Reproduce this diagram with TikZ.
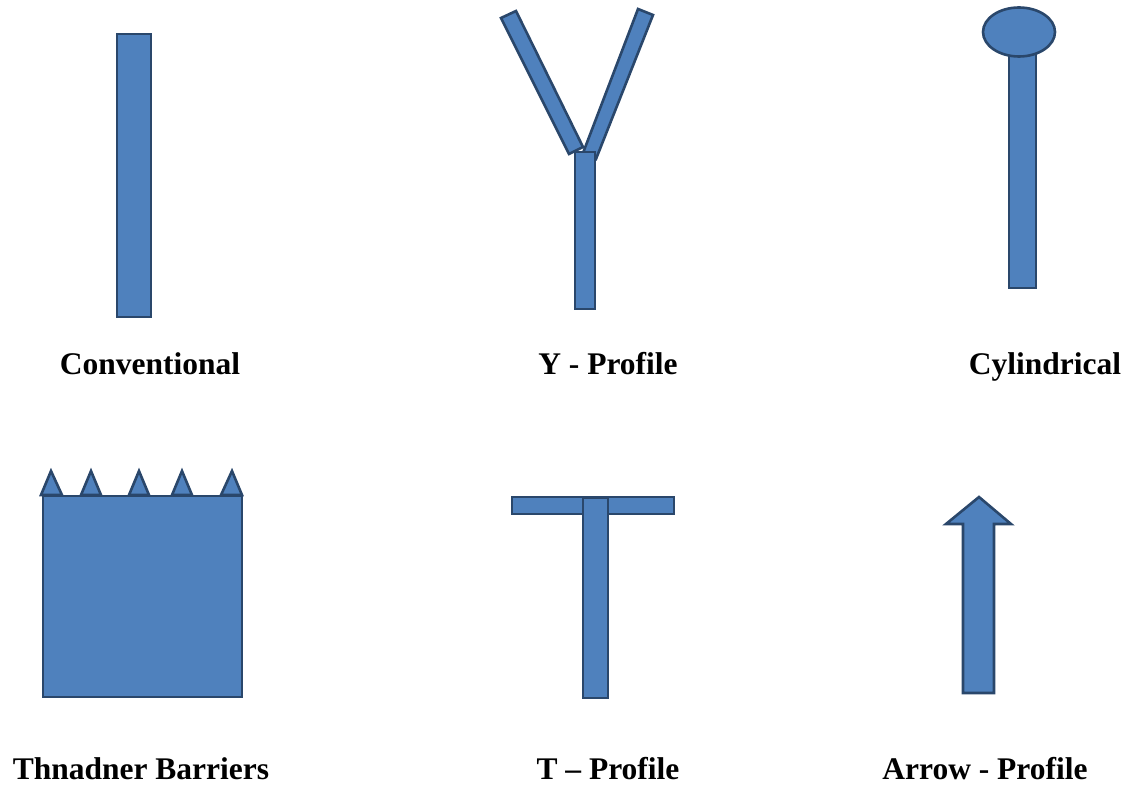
\documentclass[tikz,border=0pt]{standalone}
\usepackage{fontspec}
\setmainfont{Liberation Serif}
\definecolor{shapefill}{HTML}{4F81BD}
\definecolor{shapeline}{HTML}{2A476B}
\tikzset{
  part/.style={fill=shapefill, draw=shapeline, line width=2.6pt, line join=miter},
  label/.style={font=\fontsize{31.5}{36}\selectfont\bfseries, anchor=base, inner sep=0pt}
}
\begin{document}
\begin{tikzpicture}[x=1pt,y=-1pt]
\useasboundingbox (0,0) rectangle (1135,786);
% Conventional
\draw[part] (117,34) rectangle (151,317);
\node[label] (l1) at (150,374) {Conventional};
% Y-profile
\draw[part] (501,18) -- (516,11) -- (583,147) -- (569,154) -- cycle;
\draw[part] (638,9) -- (653,15) -- (596,159) -- (583,153) -- cycle;
\draw[part] (575,152) rectangle (595,309);
\node[label] (l2) at (608,374) {Y - Profile};
% Cylindrical
\draw[part] (1009,45) rectangle (1036,288);
\draw[part] (1019,32) ellipse [x radius=36, y radius=24.5];
\node[label] (l3) at (1045,374) {Cylindrical};
% Thnadner barriers
\foreach \a/\l/\r in {51/41/62, 91/81/101, 139/129/149, 182/172/192, 232/221/242}
  \draw[part] (\a,471) -- (\r,495) -- (\l,495) -- cycle;
\draw[part] (43,496) rectangle (242,697);
\node[label] (l4) at (141,779) {Thnadner Barriers};
% T-profile
\draw[part] (512,497) rectangle (674,514);
\draw[part] (583,498) rectangle (608,698);
\node[label] (l5) at (608,779) {T \textendash\ Profile};
% Arrow-profile
\draw[part] (979,497) -- (1011,524) -- (994,524) -- (994,693) -- (963,693) -- (963,524) -- (946,524) -- cycle;
\node[label] (l6) at (985,779) {Arrow - Profile};
\end{tikzpicture}
\end{document}
